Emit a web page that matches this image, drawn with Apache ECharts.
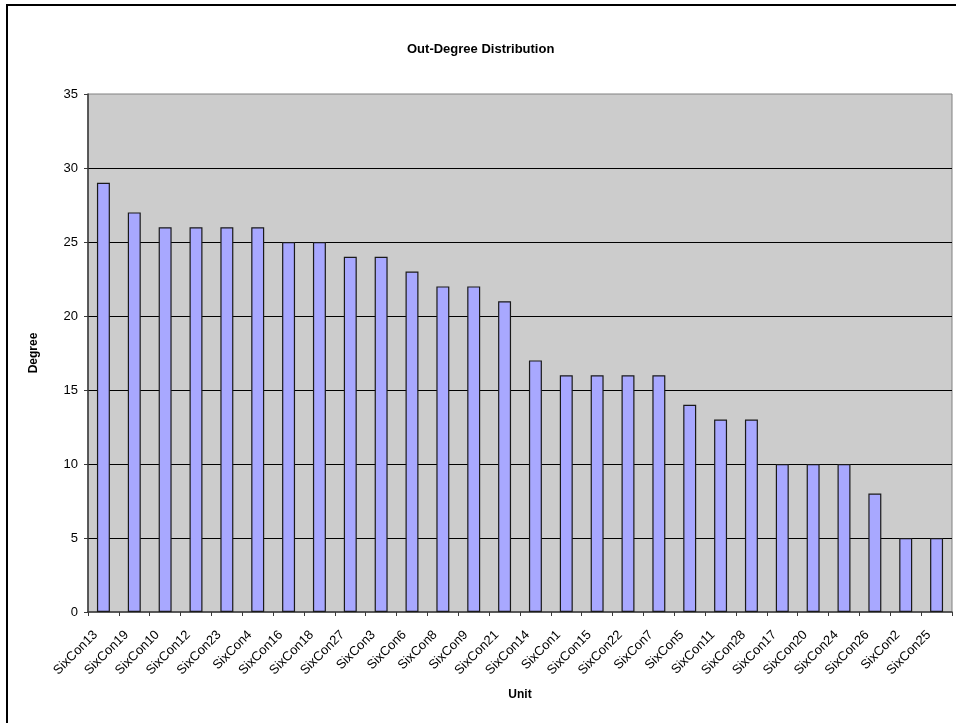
<!DOCTYPE html>
<html>
<head>
<meta charset="utf-8">
<style>
  html, body { margin: 0; padding: 0; background: #ffffff; }
  #chart { width: 956px; height: 723px; }
</style>
<script src="https://cdn.jsdelivr.net/npm/echarts@6/dist/echarts.min.js"></script>
</head>
<body>
<div id="chart"></div>
<script>
// Units, sorted by out-degree
const units = [
  'SixCon13', 'SixCon19', 'SixCon10', 'SixCon12', 'SixCon23', 'SixCon4', 'SixCon16',
  'SixCon18', 'SixCon27', 'SixCon3', 'SixCon6', 'SixCon8', 'SixCon9', 'SixCon21',
  'SixCon14', 'SixCon1', 'SixCon15', 'SixCon22', 'SixCon7', 'SixCon5', 'SixCon11',
  'SixCon28', 'SixCon17', 'SixCon20', 'SixCon24', 'SixCon26', 'SixCon2', 'SixCon25'
];
const degree = [
  29, 27, 26, 26, 26, 26, 25,
  25, 24, 24, 23, 22, 22, 21,
  17, 16, 16, 16, 16, 14, 13,
  13, 10, 10, 10, 8, 5, 5
];
const yMin = 0;
const yMax = 35;
const yStep = 5;

const font = 'Arial, "Liberation Sans", sans-serif';

const chart = echarts.init(document.getElementById('chart'), null, { renderer: 'canvas' });

chart.setOption({
  backgroundColor: '#ffffff',
  animation: false,
  title: {
    text: 'Out-Degree Distribution',
    left: 402,
    top: 38,
    textStyle: { fontFamily: font, fontSize: 13, fontWeight: 'bold', color: '#000' }
  },
  graphic: [{
    type: 'rect',
    z: -10,
    silent: true,
    shape: { x: 7, y: 5, width: 1100, height: 1100 },
    style: { fill: 'none', stroke: '#000', lineWidth: 2 }
  }],
  grid: {
    left: 88,
    top: 94,
    right: 4,
    bottom: 111,
    show: true,
    backgroundColor: '#CCCCCC',
    borderColor: '#808080',
    borderWidth: 1
  },
  xAxis: {
    type: 'category',
    data: units,
    boundaryGap: true,
    name: 'Unit',
    nameLocation: 'middle',
    nameGap: 77,
    nameTextStyle: { fontFamily: font, fontSize: 12, fontWeight: 'bold', color: '#000' },
    axisLine: { show: true, lineStyle: { color: '#3a3a3a', width: 1.5 } },
    axisTick: { show: true, length: 4, alignWithLabel: false, lineStyle: { color: '#3a3a3a' } },
    axisLabel: {
      interval: 0,
      rotate: 45,
      margin: 13,
      padding: [0, 11, 0, 0],
      fontFamily: font,
      fontSize: 13,
      color: '#000'
    },
    splitLine: { show: false }
  },
  yAxis: {
    type: 'value',
    min: yMin,
    max: yMax,
    interval: yStep,
    name: 'Degree',
    nameLocation: 'middle',
    nameGap: 48,
    nameRotate: 90,
    nameTextStyle: { fontFamily: font, fontSize: 12, fontWeight: 'bold', color: '#000' },
    axisLine: { show: true, lineStyle: { color: '#3a3a3a', width: 1.5 } },
    axisTick: { show: true, length: 4, lineStyle: { color: '#3a3a3a' } },
    axisLabel: {
      margin: 10,
      fontFamily: font,
      fontSize: 13,
      color: '#000'
    },
    splitLine: {
      show: true,
      showMinLine: false,
      showMaxLine: false,
      lineStyle: { color: '#000', width: 1 }
    }
  },
  series: [{
    type: 'bar',
    data: degree,
    barCategoryGap: '58%',
    itemStyle: {
      color: '#A8A8FF',
      borderColor: '#1a1a1a',
      borderWidth: 1.2
    }
  }]
});
</script>
</body>
</html>
